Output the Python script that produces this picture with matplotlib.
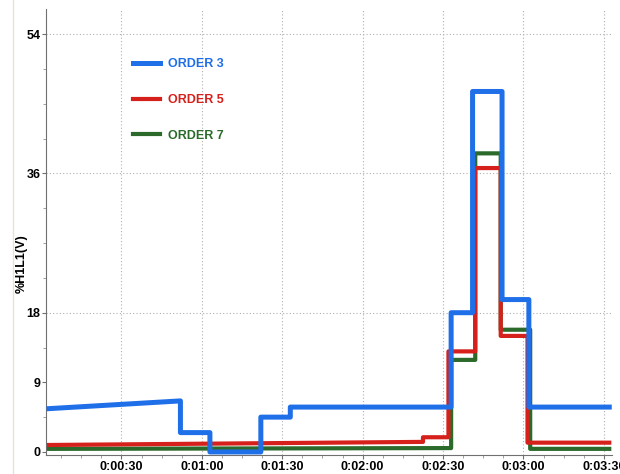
import matplotlib
matplotlib.use("Agg")
import matplotlib.pyplot as plt
from matplotlib.ticker import FixedLocator, MultipleLocator, FuncFormatter

plt.rcParams['font.family'] = ['Liberation Sans Narrow', 'Liberation Sans', 'DejaVu Sans']

# time in seconds, values in %
t_order3 = [3, 52, 52, 63, 63, 82, 82, 93, 93, 153, 153, 161, 161, 172, 172, 182, 182, 212]
v_order3 = [5.6, 6.6, 2.5, 2.5, 0, 0, 4.5, 4.5, 5.8, 5.8, 18, 18, 46.6, 46.6, 19.7, 19.7, 5.8, 5.8]

t_order5 = [3, 142.5, 142.5, 152, 152, 162, 162, 171.5, 171.5, 181.5, 181.5, 212]
v_order5 = [0.9, 1.3, 1.9, 1.9, 13, 13, 36.7, 36.7, 15.0, 15.0, 1.2, 1.2]

t_order7 = [3, 153, 153, 162, 162, 171.5, 171.5, 182.5, 182.5, 212]
v_order7 = [0.4, 0.5, 11.9, 11.9, 38.6, 38.6, 15.8, 15.8, 0.4, 0.4]

y_ticks = [0, 9, 18, 36, 54]
x_ticks = [30, 60, 90, 120, 150, 180, 210]

fig = plt.figure(figsize=(6.2, 4.74), dpi=100)
ax = fig.add_axes([0.074, 0.04, 0.913, 0.94])

ax.plot(t_order7, v_order7, color='#2b6a2b', lw=3.0, label='ORDER 7', zorder=3)
ax.plot(t_order5, v_order5, color='#d6201b', lw=3.0, label='ORDER 5', zorder=4)
ax.plot(t_order3, v_order3, color='#1f6fe8', lw=3.6, label='ORDER 3', zorder=5)

ax.set_xlim(1.8, 213)
ax.set_ylim(-0.4, 57.2)

ax.yaxis.set_major_locator(FixedLocator(y_ticks))
ax.xaxis.set_major_locator(FixedLocator(x_ticks))
ax.xaxis.set_minor_locator(MultipleLocator(7.5))
ax.yaxis.set_minor_locator(MultipleLocator(4.5))
ax.xaxis.set_major_formatter(FuncFormatter(
    lambda s, p: '%d:%02d:%02d' % (s // 3600, (s % 3600) // 60, s % 60)))

for t in x_ticks:
    ax.axvline(t, color='#b0b0b0', lw=0.8, ls=(0, (1, 2)), zorder=1)
for y in [18, 36, 54]:
    ax.axhline(y, color='#b0b0b0', lw=0.8, ls=(0, (1, 2)), zorder=1)

for s in ['top', 'right']:
    ax.spines[s].set_visible(False)
for s in ['left', 'bottom']:
    ax.spines[s].set_color('#707070')
    ax.spines[s].set_linewidth(0.8)

ax.tick_params(axis='both', which='major', length=3, color='#707070',
               labelsize=9, pad=1)
ax.tick_params(axis='both', which='minor', length=2, color='#909090')
for lab in ax.get_xticklabels() + ax.get_yticklabels():
    lab.set_fontweight('bold')

ax.set_ylabel('%H1L1(V)', fontsize=9, fontweight='bold')
ax.yaxis.set_label_coords(-0.032, 0.43)

h, l = ax.get_legend_handles_labels()
leg = ax.legend(h[::-1], l[::-1], loc='upper left', bbox_to_anchor=(0.145, 0.902),
                frameon=False, handlelength=2.2, handletextpad=0.64,
                labelspacing=1.9, borderaxespad=0.0,
                labelcolor='linecolor', prop={'size': 9, 'weight': 'bold'})

fig.add_artist(plt.Line2D([0.021, 0.021], [0.0, 1.0], color='#e6e2d6', lw=1.0))

fig.savefig('out.png', dpi=100)
